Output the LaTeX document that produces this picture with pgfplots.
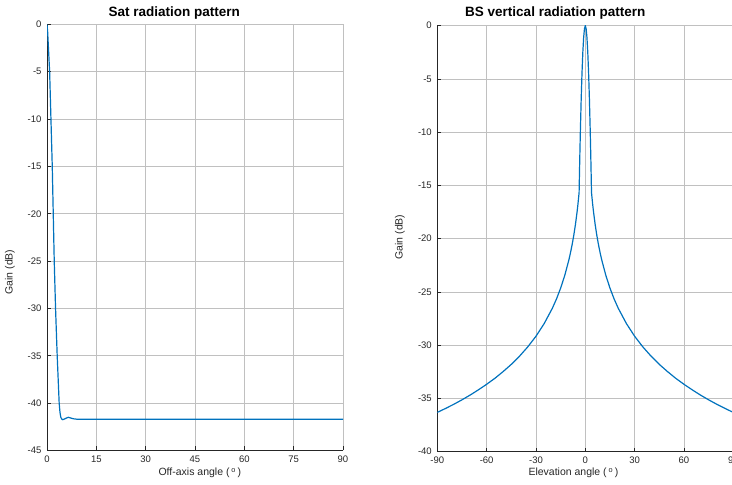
\documentclass[border=0pt]{standalone}
\usepackage{pgfplots}
\pgfplotsset{compat=1.18}
\usepackage{fontspec}
\setmainfont{Liberation Sans}
\definecolor{mblue}{RGB}{0,114,189}
\definecolor{axc}{RGB}{38,38,38}
\definecolor{gridc}{RGB}{192,192,192}
\pgfplotsset{
  mstyle/.style={
    scale only axis, width=296pt, height=426pt,
    axis lines=left, axis line style={-, draw=axc, line width=0.9pt},
    tick align=inside, major tick length=4pt,
    tick style={axc, line width=0.7pt},
    grid=major, major grid style={gridc, line width=0.6pt},
    enlargelimits=false,
    /pgf/number format/assume math mode=true,
    ticklabel style={font=\fontsize{9.5}{11}\selectfont, text=axc},
    yticklabel style={xshift=-2pt},
    xticklabel style={yshift=-2pt},
  }
}
\pgfplotstableread{
x y
0 0
0.2 -0.8
0.4 -2.2
0.6 -3.6
0.8 -5
1.0 -7.5
1.2 -10
1.4 -12.5
1.6 -15
1.75 -17.5
1.9 -20
2.05 -22.5
2.2 -25
2.4 -27.5
2.6 -30
2.85 -32.5
3.1 -35
3.4 -37.5
3.7 -40
3.95 -41
4.2 -41.5
4.5 -41.7
4.8 -41.75
5.2 -41.7
5.8 -41.6
6.5 -41.5
7.2 -41.58
8 -41.66
9 -41.7
90 -41.7
}\satdata
\pgfplotstableread{
x y
-90 -36.31
-85 -35.94
-80 -35.55
-75 -35.13
-70 -34.68
-65 -34.19
-60 -33.67
-55 -33.11
-50 -32.48
-45 -31.80
-40 -31.03
-35 -30.16
-30 -29.16
-25 -27.97
-20 -26.52
-17.5 -25.65
-15 -24.64
-12.5 -23.45
-10 -22.00
-9 -21.31
-8 -20.55
-7 -19.68
-6 -18.67
-5 -17.48
-4.5 -16.80
-4 -16.03
-3.77 -15.66
-3.5 -13.50
-3.3 -12.00
-3 -9.92
-2.5 -6.89
-2 -4.41
-1.5 -2.48
-1 -1.10
-0.5 -0.28
0 0
0.5 -0.28
1 -1.10
1.5 -2.48
2 -4.41
2.5 -6.89
3 -9.92
3.3 -12.00
3.5 -13.50
3.77 -15.66
4 -16.03
4.5 -16.80
5 -17.48
6 -18.67
7 -19.68
8 -20.55
9 -21.31
10 -22.00
12.5 -23.45
15 -24.64
17.5 -25.65
20 -26.52
25 -27.97
30 -29.16
35 -30.16
40 -31.03
45 -31.80
50 -32.48
55 -33.11
60 -33.67
65 -34.19
70 -34.68
75 -35.13
80 -35.55
85 -35.94
90 -36.31
}\bsdata
\begin{document}
\begin{tikzpicture}
\useasboundingbox (0pt,0pt) rectangle (732pt,485pt);
\begin{axis}[mstyle, at={(47pt,34.6pt)}, anchor=south west,
  xmin=0, xmax=90, ymin=-45, ymax=0,
  xtick={0,15,...,90}, ytick={-45,-40,...,0}]
\addplot[mblue, line width=1.2pt] table[x=x,y=y] {\satdata};
\end{axis}
\begin{axis}[mstyle, at={(437.3pt,33.3pt)}, anchor=south west,
  xmin=-90, xmax=90, ymin=-40, ymax=0,
  xtick={-90,-60,...,90}, ytick={-40,-35,...,0}]
\addplot[mblue, line width=1.2pt] table[x=x,y=y] {\bsdata};
\end{axis}
\node[anchor=base west, font=\fontsize{13.5}{15}\selectfont\bfseries, text=black] at (105pt,468.3pt) {Sat radiation pattern};
\node[anchor=base west, font=\fontsize{13.5}{15}\selectfont\bfseries, text=black] at (461.7pt,468.3pt) {BS vertical radiation pattern};
\node[anchor=base west, font=\fontsize{10.5}{12}\selectfont, text=axc] at (155pt,9pt) {Off-axis angle (\,\textsuperscript{o}\,)};
\node[anchor=base west, font=\fontsize{10.5}{12}\selectfont, text=axc] at (525pt,9pt) {Elevation angle (\,\textsuperscript{o}\,)};
\node[rotate=90, font=\fontsize{10.5}{12}\selectfont, text=axc] at (10pt,213pt) {Gain (dB)};
\node[rotate=90, font=\fontsize{10.5}{12}\selectfont, text=axc] at (400pt,248pt) {Gain (dB)};
\end{tikzpicture}
\end{document}
